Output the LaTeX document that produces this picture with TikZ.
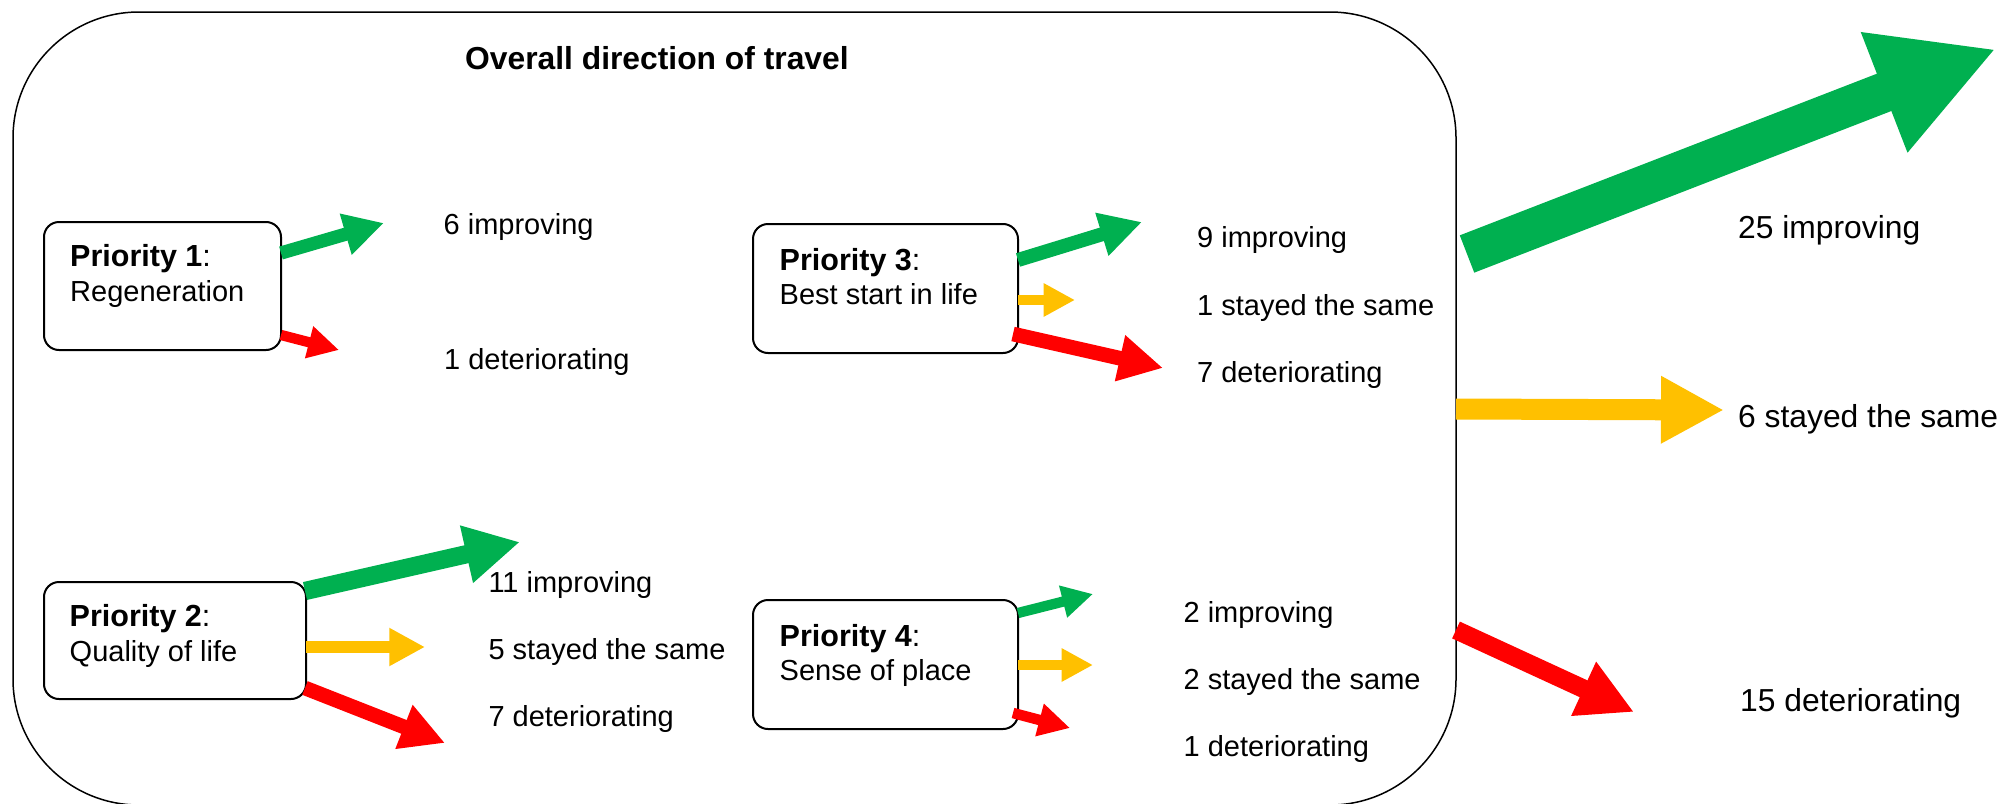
\documentclass[tikz,border=0pt]{standalone}
\usepackage{fontspec}
\setmainfont{Liberation Sans}
\usetikzlibrary{arrows.meta,calc}
\definecolor{upgreen}{HTML}{00B050}
\definecolor{samegold}{HTML}{FFC000}
\definecolor{downred}{HTML}{FF0000}

\begin{document}
\begin{tikzpicture}[x=1pt,y=-1pt]
    \tikzstyle{prio}=[draw, line width=2pt, rounded corners=15pt, anchor=north west, inner sep=0pt, outer sep=0pt]
    \tikzstyle{boxhead}=[anchor=base west, inner sep=0pt, font=\fontsize{30.5}{36}\selectfont]
    \tikzstyle{boxtext}=[anchor=base west, inner sep=0pt, font=\fontsize{29}{35}\selectfont]
    \tikzstyle{count}=[anchor=base west, inner sep=0pt, font=\fontsize{29}{35}\selectfont]
    \tikzstyle{total}=[anchor=base west, inner sep=0pt, font=\fontsize{31.8}{38}\selectfont]
    \tikzstyle{trend}=[-{Triangle[length=0pt 3,width=0pt 3]}]
    \clip (0,0) rectangle (2004,803);

    % outer frame and title
    \node[draw, line width=1.5pt, rounded corners=126pt, anchor=north west, inner sep=0pt, outer sep=0pt,
          minimum width=1443pt, minimum height=793pt] (overall) at (13,12) {};
    \node[anchor=base west, inner sep=0pt, font=\bfseries\fontsize{31.8}{38}\selectfont] (title) at (465,69) {Overall direction of travel};

    % priority boxes
    \node[prio, minimum width=237pt, minimum height=128pt] (p1) at (44,222) {};
    \node[prio, minimum width=265pt, minimum height=129pt] (p3) at (753,224) {};
    \node[prio, minimum width=262pt, minimum height=117pt] (p2) at (44,582) {};
    \node[prio, minimum width=265pt, minimum height=129pt] (p4) at (753,600) {};

    \node[boxhead] (p1head) at ($(p1.north west)+(26,44.7)$) {\textbf{Priority 1}:};
    \node[boxtext] (p1name) at ($(p1head.base west)+(0,34.5)$) {Regeneration};
    \node[boxhead] (p3head) at ($(p3.north west)+(26.5,46)$) {\textbf{Priority 3}:};
    \node[boxtext] (p3name) at ($(p3head.base west)+(0,34.5)$) {Best start in life};
    \node[boxhead] (p2head) at ($(p2.north west)+(25.5,44.7)$) {\textbf{Priority 2}:};
    \node[boxtext] (p2name) at ($(p2head.base west)+(0,34.5)$) {Quality of life};
    \node[boxhead] (p4head) at ($(p4.north west)+(26.5,46)$) {\textbf{Priority 4}:};
    \node[boxtext] (p4name) at ($(p4head.base west)+(0,34.5)$) {Sense of place};

    % arrow tips
    \coordinate (p1up) at (384,223);
    \coordinate (p1down) at (339,350);
    \coordinate (p3up) at (1142,222);
    \coordinate (p3same) at (1075,300);
    \coordinate (p3down) at (1163,368);
    \coordinate (p2up) at (520,542);
    \coordinate (p2same) at (425,647);
    \coordinate (p2down) at (445,743);
    \coordinate (p4up) at (1093,594);
    \coordinate (p4same) at (1093,665);
    \coordinate (p4down) at (1070,728);
    \coordinate (allup) at (1996,49);
    \coordinate (allsame) at (1724,410);
    \coordinate (alldown) at (1634,712);

    \draw[trend, upgreen, line width=13.3pt] ($(p1.north east)+(0,31)$) -- (p1up);
    \draw[trend, downred, line width=10.3pt] ($(p1.north east)+(0,113)$) -- (p1down);

    \draw[trend, upgreen, line width=14pt] ($(p3.north east)+(0,36)$) -- (p3up);
    \draw[trend, samegold, line width=10.5pt] ($(p3.north east)+(0,76)$) -- (p3same);
    \draw[trend, downred, line width=14.7pt] ($(p3.north east)+(-5,110)$) -- (p3down);

    \draw[trend, upgreen, line width=18.3pt] ($(p2.north east)+(-1,9)$) -- (p2up);
    \draw[trend, samegold, line width=11.9pt] ($(p2.north east)+(0,65)$) -- (p2same);
    \draw[trend, downred, line width=14.7pt] ($(p2.north east)+(-1,106)$) -- (p2down);

    \draw[trend, upgreen, line width=10.3pt] ($(p4.north east)+(0,13)$) -- (p4up);
    \draw[trend, samegold, line width=10.5pt] ($(p4.north east)+(0,65)$) -- (p4same);
    \draw[trend, downred, line width=10.5pt] ($(p4.north east)+(-5,113)$) -- (p4down);

    \draw[trend, upgreen, line width=40pt] ($(overall.north east)+(11,242)$) -- (allup);
    \draw[trend, samegold, line width=21pt] ($(overall.north east)+(0,397)$) -- (allsame);
    \draw[trend, downred, line width=18.5pt] ($(overall.north east)+(0,618)$) -- (alldown);

    % counts
    \node[count] (p1uplab) at (443.5,234.5) {6 improving};
    \node[count] (p1downlab) at (444,369) {1 deteriorating};
    \node[count] (p3uplab) at (1197,247.5) {9 improving};
    \node[count] (p3samelab) at (1197,315) {1 stayed the same};
    \node[count] (p3downlab) at (1197,382.5) {7 deteriorating};
    \node[count] (p2uplab) at (488.3,592) {11 improving};
    \node[count] (p2samelab) at (488.3,659.5) {5 stayed the same};
    \node[count] (p2downlab) at (488.3,726) {7 deteriorating};
    \node[count] (p4uplab) at (1183.4,622.5) {2 improving};
    \node[count] (p4samelab) at (1183.4,689.5) {2 stayed the same};
    \node[count] (p4downlab) at (1183.4,756) {1 deteriorating};
    \node[total] (alluplab) at (1738,238) {25 improving};
    \node[total] (allsamelab) at (1738,427.7) {6 stayed the same};
    \node[total] (alldownlab) at (1740,711.7) {15 deteriorating};
\end{tikzpicture}
\end{document}
